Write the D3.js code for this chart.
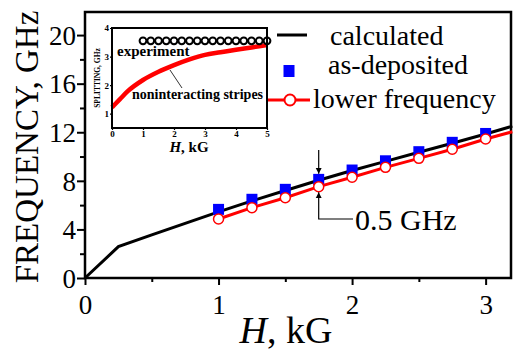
<!DOCTYPE html>
<html>
<head>
<meta charset="utf-8">
<script src="https://cdn.jsdelivr.net/npm/d3@7"></script>
<style>
  body { margin: 0; background: #fff; }
  svg { display: block; }
  text { font-family: "Liberation Serif", "Times New Roman", serif; fill: #000; }
</style>
</head>
<body>
<div id="chart"></div>
<script>
// main plot data
const calcH = [0, 0.25, 0.5, 0.75, 1, 1.25, 1.5, 1.75, 2, 2.25, 2.5, 2.75, 3, 3.2];
const calcF = [0, 2.58, 3.55, 4.5, 5.45, 6.35, 7.2, 8.05, 8.85, 9.6, 10.35, 11.1, 11.85, 12.5];
const measH = [1, 1.25, 1.5, 1.75, 2, 2.25, 2.5, 2.75, 3];
const depositedF = [5.65, 6.48, 7.3, 8.12, 8.89, 9.65, 10.4, 11.17, 11.9];
const lowerF = [4.86, 5.79, 6.61, 7.52, 8.29, 9.11, 9.85, 10.6, 11.44];
const lowerLineH = [1, 1.25, 1.5, 1.75, 2, 2.25, 2.5, 2.75, 3, 3.2];
const lowerLineF = [4.86, 5.79, 6.61, 7.52, 8.29, 9.11, 9.85, 10.6, 11.44, 12.04];
const xTicks = [0, 1, 2, 3];
const xMinor = [0.5, 1.5, 2.5];
const yTicks = [0, 4, 8, 12, 16, 20];
const yMinor = [2, 6, 10, 14, 18];
const legendLabels = ["calculated", "as-deposited", "lower frequency"];

// inset data
const insetH = [0, 0.25, 0.5, 1, 1.5, 2, 2.5, 3, 3.5, 4, 4.5, 5];
const insetSplit = [1.22, 1.5, 1.78, 2.18, 2.47, 2.7, 2.9, 3.06, 3.15, 3.24, 3.32, 3.4];
const experimentH = [1, 1.25, 1.5, 1.75, 2, 2.25, 2.5, 2.75, 3, 3.25, 3.5, 3.75, 4, 4.25, 4.5, 4.75, 5];
const experimentSplit = [3.55, 3.55, 3.55, 3.55, 3.55, 3.55, 3.55, 3.55, 3.55, 3.55, 3.55, 3.55, 3.55, 3.55, 3.55, 3.55, 3.55];
const insetXTicks = [0, 1, 2, 3, 4, 5];
const insetYTicks = [1, 2, 3, 4];

const W = 518, H = 353;
const svg = d3.select("#chart").append("svg").attr("width", W).attr("height", H);

const x = d3.scaleLinear().domain([0, 3.19]).range([85, 511]);
const y = d3.scaleLinear().domain([0, 21.9]).range([278, 12]);

// axes
const xAxis = svg.append("g").attr("transform", `translate(0,${y(0)})`)
  .call(d3.axisBottom(x).tickValues(xTicks).tickSize(7).tickPadding(10).tickFormat(d3.format("d")));
svg.append("g").attr("transform", `translate(0,${y(0)})`)
  .call(d3.axisBottom(x).tickValues(xMinor).tickSize(4).tickFormat(""));
const yAxis = svg.append("g").attr("transform", `translate(${x(0)},0)`)
  .call(d3.axisLeft(y).tickValues(yTicks).tickSize(8).tickPadding(1).tickFormat(d3.format("d")));
svg.append("g").attr("transform", `translate(${x(0)},0)`)
  .call(d3.axisLeft(y).tickValues(yMinor).tickSize(5).tickFormat(""));
svg.selectAll(".domain").remove();
svg.selectAll(".tick line").attr("stroke", "#000").attr("stroke-width", 2);
xAxis.selectAll("text").style("font-size", "27px").attr("dy", "0.72em");
yAxis.selectAll("text").style("font-size", "27px").attr("dy", "0.34em");

svg.append("rect")
  .attr("x", x(0)).attr("y", y(21.9))
  .attr("width", x(3.19) - x(0)).attr("height", y(0) - y(21.9))
  .attr("fill", "none").attr("stroke", "#000").attr("stroke-width", 2.5);

// axis titles
svg.append("text")
  .attr("transform", `translate(38,${(y(0) + y(21.9)) / 2 + 2}) rotate(-90)`)
  .attr("text-anchor", "middle")
  .style("font-size", "33px")
  .text("FREQUENCY, GHz");

const xt = svg.append("text")
  .attr("x", 286).attr("y", 343)
  .attr("text-anchor", "middle")
  .style("font-size", "38px");
xt.append("tspan").style("font-style", "italic").text("H");
xt.append("tspan").text(", kG");

// lines
const line = d3.line().x(d => x(d[0])).y(d => y(d[1]));
svg.append("path")
  .datum(d3.zip(calcH, calcF))
  .attr("d", line)
  .attr("fill", "none").attr("stroke", "#000").attr("stroke-width", 3);
svg.append("path")
  .datum(d3.zip(lowerLineH, lowerLineF))
  .attr("d", line)
  .attr("fill", "none").attr("stroke", "#ff0000").attr("stroke-width", 3);

// markers
const sq = 11;
svg.selectAll("rect.dep")
  .data(d3.zip(measH, depositedF))
  .join("rect")
  .attr("class", "dep")
  .attr("x", d => x(d[0]) - sq / 2).attr("y", d => y(d[1]) - sq / 2)
  .attr("width", sq).attr("height", sq)
  .attr("fill", "#0000ff");
svg.selectAll("circle.low")
  .data(d3.zip(measH, lowerF))
  .join("circle")
  .attr("class", "low")
  .attr("cx", d => x(d[0])).attr("cy", d => y(d[1]))
  .attr("r", 5)
  .attr("fill", "#fff").attr("stroke", "#ff0000").attr("stroke-width", 1.5);

// 0.5 GHz annotation at H = 1.75
const ai = 3;
const ax = x(measH[ai]);
const defs = svg.append("defs");
defs.append("marker")
  .attr("id", "arr").attr("viewBox", "0 0 10 10")
  .attr("refX", 10).attr("refY", 5)
  .attr("markerWidth", 5).attr("markerHeight", 7)
  .attr("orient", "auto-start-reverse")
  .append("path").attr("d", "M0,0 L10,5 L0,10 Z").attr("fill", "#000");
svg.append("line")
  .attr("x1", ax).attr("x2", ax)
  .attr("y1", 150).attr("y2", y(depositedF[ai]) - sq / 2)
  .attr("stroke", "#000").attr("stroke-width", 1.2)
  .attr("marker-end", "url(#arr)");
svg.append("path")
  .attr("d", `M353,219 L${ax},219 L${ax},${y(lowerF[ai]) + 5.5}`)
  .attr("fill", "none").attr("stroke", "#000").attr("stroke-width", 1.2)
  .attr("marker-end", "url(#arr)");
svg.append("text")
  .attr("x", 355).attr("y", 230)
  .style("font-size", "30px")
  .text("0.5 GHz");

// legend
const lg = svg.append("g");
lg.append("line").attr("x1", 277).attr("x2", 307).attr("y1", 35).attr("y2", 35)
  .attr("stroke", "#000").attr("stroke-width", 3);
lg.append("rect").attr("x", 289 - 5.5).attr("y", 71 - 6).attr("width", 11).attr("height", 12)
  .attr("fill", "#0000ff");
lg.append("line").attr("x1", 268).attr("x2", 310).attr("y1", 100).attr("y2", 100)
  .attr("stroke", "#ff0000").attr("stroke-width", 3);
lg.append("circle").attr("cx", 290).attr("cy", 100).attr("r", 5.5)
  .attr("fill", "#fff").attr("stroke", "#ff0000").attr("stroke-width", 2);
lg.selectAll("text.lab")
  .data(legendLabels)
  .join("text")
  .attr("class", "lab")
  .attr("x", (d, i) => [330, 328, 313][i])
  .attr("y", (d, i) => [45, 74, 108][i])
  .style("font-size", "28px")
  .text(d => d);

// inset
const ix = d3.scaleLinear().domain([0, 5]).range([112, 267]);
const iy = d3.scaleLinear().domain([0.5, 4]).range([128, 28]);
const ins = svg.append("g");
ins.append("rect")
  .attr("x", ix(0)).attr("y", iy(4))
  .attr("width", ix(5) - ix(0)).attr("height", iy(0.5) - iy(4))
  .attr("fill", "#fff");
ins.append("g").attr("transform", `translate(0,${iy(0.5)})`)
  .call(d3.axisBottom(ix).tickValues(insetXTicks).tickSize(2).tickPadding(1).tickFormat(d3.format("d")));
ins.append("g").attr("transform", `translate(${ix(0)},0)`)
  .call(d3.axisLeft(iy).tickValues(insetYTicks).tickSize(2).tickPadding(1).tickFormat(d3.format("d")));
ins.selectAll(".domain").remove();
ins.selectAll(".tick line").attr("stroke", "#000").attr("stroke-width", 1.2);
ins.selectAll(".tick text").style("font-size", "9px").style("font-weight", "bold");

ins.append("path")
  .datum(d3.zip(insetH, insetSplit))
  .attr("d", d3.line().curve(d3.curveMonotoneX).x(d => ix(d[0])).y(d => iy(d[1])))
  .attr("fill", "none").attr("stroke", "#ff0000").attr("stroke-width", 4.5);

ins.selectAll("circle.exp")
  .data(d3.zip(experimentH, experimentSplit))
  .join("circle")
  .attr("class", "exp")
  .attr("cx", d => ix(d[0])).attr("cy", d => iy(d[1]))
  .attr("r", 3.4)
  .attr("fill", "#fff").attr("stroke", "#000").attr("stroke-width", 2);

ins.append("rect")
  .attr("x", ix(0)).attr("y", iy(4))
  .attr("width", ix(5) - ix(0)).attr("height", iy(0.5) - iy(4))
  .attr("fill", "none").attr("stroke", "#000").attr("stroke-width", 2);

ins.append("text")
  .attr("x", 117).attr("y", 56)
  .style("font-size", "15px").style("font-weight", "bold")
  .text("experiment");
ins.append("line")
  .attr("x1", 182).attr("y1", 88).attr("x2", 170).attr("y2", 70)
  .attr("stroke", "#000").attr("stroke-width", 0.8);
ins.append("text")
  .attr("x", 132).attr("y", 99)
  .style("font-size", "14px").style("font-weight", "bold")
  .text("noninteracting stripes");
ins.append("text")
  .attr("transform", `translate(100,${(iy(0.5) + iy(4)) / 2}) rotate(-90)`)
  .attr("text-anchor", "middle")
  .style("font-size", "7.5px").style("font-weight", "bold")
  .text("SPLITTING, GHz");
const ixt = ins.append("text")
  .attr("x", 189).attr("y", 152)
  .attr("text-anchor", "middle")
  .style("font-size", "15px").style("font-weight", "bold");
ixt.append("tspan").style("font-style", "italic").text("H");
ixt.append("tspan").text(", kG");
</script>
</body>
</html>
